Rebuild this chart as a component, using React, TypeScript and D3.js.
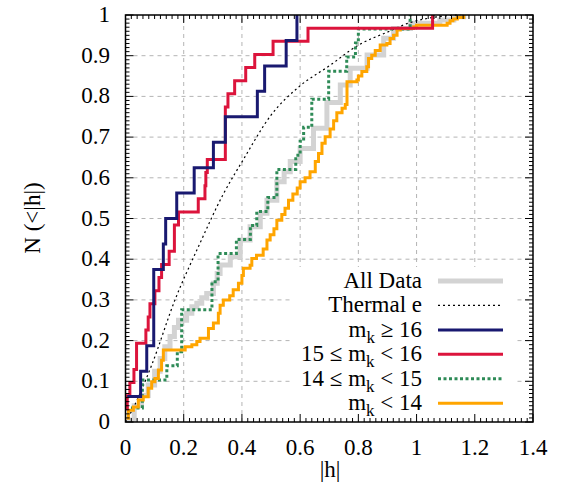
import React from "react";
import * as d3 from "d3";

// ---- data ----
const xTicks = [0, 0.2, 0.4, 0.6, 0.8, 1, 1.2, 1.4];
const yTicks = [0, 0.1, 0.2, 0.3, 0.4, 0.5, 0.6, 0.7, 0.8, 0.9, 1];

// sorted |h| values per sample (empirical CDF)
const blueH = [0.006, 0.052, 0.073, 0.097, 0.097, 0.097, 0.13, 0.138, 0.176, 0.236, 0.302, 0.343, 0.453, 0.478, 0.552, 0.589];
const redH = [0.001, 0.006, 0.015, 0.029, 0.038, 0.038, 0.07, 0.078, 0.084, 0.101, 0.115, 0.124, 0.15, 0.168, 0.168, 0.182, 0.25, 0.273, 0.276, 0.281, 0.343, 0.343, 0.343, 0.343, 0.352, 0.375, 0.413, 0.444, 0.507, 0.627, 1.055];
const greenH = [0.0, 0.058, 0.058, 0.142, 0.178, 0.193, 0.193, 0.193, 0.297, 0.297, 0.318, 0.318, 0.381, 0.429, 0.451, 0.489, 0.52, 0.52, 0.585, 0.6, 0.612, 0.64, 0.64, 0.698, 0.698, 0.76, 0.79, 0.8, 0.978];

// staircase corners (x, level) for the larger samples
const orangeX = [0.004, 0.01, 0.027, 0.044, 0.061, 0.078, 0.09, 0.101, 0.113, 0.124, 0.13, 0.205, 0.228, 0.245, 0.256, 0.285, 0.302, 0.319, 0.325, 0.336, 0.358, 0.37, 0.388, 0.4, 0.405, 0.428, 0.434, 0.45, 0.473, 0.486, 0.497, 0.51, 0.52, 0.537, 0.548, 0.56, 0.575, 0.59, 0.6, 0.617, 0.634, 0.652, 0.663, 0.675, 0.686, 0.703, 0.715, 0.726, 0.744, 0.755, 0.761, 0.795, 0.8, 0.812, 0.829, 0.835, 0.846, 0.858, 0.875, 0.898, 0.909, 0.921, 0.933, 0.944, 0.99, 1.0, 1.105, 1.115, 1.125, 1.14, 1.162];
const orangeY = [0.009, 0.029, 0.037, 0.054, 0.062, 0.083, 0.099, 0.107, 0.128, 0.152, 0.177, 0.185, 0.19, 0.198, 0.206, 0.23, 0.243, 0.267, 0.287, 0.3, 0.31, 0.325, 0.341, 0.36, 0.378, 0.385, 0.402, 0.41, 0.425, 0.447, 0.46, 0.475, 0.496, 0.51, 0.525, 0.545, 0.56, 0.575, 0.59, 0.6, 0.615, 0.64, 0.66, 0.685, 0.701, 0.72, 0.74, 0.76, 0.771, 0.78, 0.836, 0.84, 0.85, 0.861, 0.873, 0.893, 0.901, 0.913, 0.926, 0.93, 0.942, 0.95, 0.963, 0.967, 0.971, 0.975, 0.98, 0.986, 0.99, 0.994, 1.0];

const allX = [0.0, 0.03, 0.055, 0.078, 0.1, 0.119, 0.135, 0.153, 0.168, 0.182, 0.21, 0.228, 0.245, 0.262, 0.279, 0.302, 0.315, 0.325, 0.36, 0.394, 0.428, 0.463, 0.486, 0.52, 0.545, 0.566, 0.6, 0.646, 0.692, 0.738, 0.772, 0.83, 0.887, 0.921, 0.979, 1.08, 1.128, 1.162];
const allY = [0.005, 0.04, 0.065, 0.091, 0.125, 0.156, 0.185, 0.21, 0.232, 0.25, 0.267, 0.283, 0.292, 0.305, 0.316, 0.341, 0.365, 0.386, 0.406, 0.447, 0.48, 0.513, 0.545, 0.59, 0.615, 0.64, 0.672, 0.722, 0.785, 0.828, 0.869, 0.902, 0.943, 0.967, 0.98, 0.988, 0.996, 1.0];

const thermalX = [0, 0.027, 0.09, 0.17, 0.25, 0.336, 0.405, 0.5, 0.6, 0.7, 0.8, 0.9, 0.98, 1.04, 1.1, 1.15];
const thermalY = [0, 0.035, 0.14, 0.3, 0.43, 0.56, 0.645, 0.754, 0.826, 0.875, 0.926, 0.958, 0.982, 0.992, 0.998, 1.0];

const legendLabels = ["All Data", "Thermal e", "m_k ≥ 16", "15 ≤ m_k < 16", "14 ≤ m_k < 15", "m_k < 14"];

// ---- layout ----
const W = 569, H = 497;
const L = 125.5, R = 533, T = 15, B = 422;
const FONT = "Liberation Serif, DejaVu Serif, serif";

const x = d3.scaleLinear().domain([0, 1.4]).range([L, R]);
const y = d3.scaleLinear().domain([0, 1]).range([B, T]);

const stepLine = d3.line<[number, number]>().x(d => x(d[0])).y(d => y(d[1])).curve(d3.curveStepAfter);
const smoothLine = d3.line<[number, number]>().x(d => x(d[0])).y(d => y(d[1])).curve(d3.curveMonotoneX);

const cdf = (h: number[]) => h.map((v, i) => [v, (i + 1) / h.length] as [number, number]);
const zip = (a: number[], b: number[]) => a.map((v, i) => [v, b[i]] as [number, number]);

const styles = [
  { stroke: "#d3d3d3", width: 5, dash: undefined as string | undefined },
  { stroke: "#000000", width: 1.2, dash: "2,3" },
  { stroke: "#191970", width: 3, dash: undefined },
  { stroke: "#dc143c", width: 3, dash: undefined },
  { stroke: "#2e8b57", width: 3, dash: "3,2.5" },
  { stroke: "#ffa500", width: 3, dash: undefined },
];

function Label({ text, xPos, yPos }: { text: string; xPos: number; yPos: number }) {
  const idx = text.indexOf("m_k");
  if (idx < 0) {
    return <text x={xPos} y={yPos} textAnchor="end">{text}</text>;
  }
  const before = text.slice(0, idx);
  const after = text.slice(idx + 3);
  return (
    <text x={xPos} y={yPos} textAnchor="end">
      {before}m<tspan dy={6} style={{ fontSize: 17 }}>k</tspan><tspan dy={-6}>{after}</tspan>
    </text>
  );
}

export default function App() {
  const xMinor = d3.range(0, 1.4001, 0.02);
  const yMinor = d3.range(0, 1.0001, 0.01);
  const series = [
    { d: stepLine(zip(allX, allY)), s: styles[0] },
    { d: smoothLine(zip(thermalX, thermalY)), s: styles[1] },
    { d: stepLine(cdf(greenH)), s: styles[4] },
    { d: stepLine(zip(orangeX, orangeY)), s: styles[5] },
    { d: stepLine(cdf(redH)), s: styles[3] },
    { d: stepLine(cdf(blueH)), s: styles[2] },
  ];
  const legY0 = 281, legDy = 24.45;
  return (
    <svg width={W} height={H} style={{ position: "absolute", left: 0, top: 0, background: "#fff", fontFamily: FONT, fontSize: 23 }}>
      <rect x={0} y={0} width={W} height={H} fill="#fff" />
      <defs>
        <clipPath id="plot"><rect x={L} y={T - 2} width={R - L} height={B - T + 2} /></clipPath>
      </defs>
      {/* grid */}
      <g stroke="#b4b4b4" strokeWidth={1} strokeDasharray="4,4">
        {xTicks.slice(1, -1).map(t => <line key={"gx" + t} x1={x(t)} x2={x(t)} y1={B} y2={T} />)}
        {yTicks.slice(1, -1).map(t => <line key={"gy" + t} x1={L} x2={R} y1={y(t)} y2={y(t)} />)}
      </g>
      {/* key background */}
      <rect x={291} y={267} width={226} height={153} fill="#fff" />
      {/* data */}
      <g clipPath="url(#plot)" fill="none" strokeLinejoin="miter">
        {series.map((sr, i) => (
          <path key={i} d={sr.d || ""} stroke={sr.s.stroke} strokeWidth={sr.s.width} strokeDasharray={sr.s.dash} />
        ))}
      </g>
      {/* ticks */}
      <g stroke="#000" strokeWidth={1}>
        {xMinor.map((t, i) => {
          const len = i % 10 === 0 ? 8 : 4;
          return (
            <g key={"xt" + i}>
              <line x1={x(t)} x2={x(t)} y1={B} y2={B - len} />
              <line x1={x(t)} x2={x(t)} y1={T} y2={T + len} />
            </g>
          );
        })}
        {yMinor.map((t, i) => {
          const len = i % 10 === 0 ? 8 : 4;
          return (
            <g key={"yt" + i}>
              <line x1={L} x2={L + len} y1={y(t)} y2={y(t)} />
              <line x1={R} x2={R - len} y1={y(t)} y2={y(t)} />
            </g>
          );
        })}
      </g>
      <rect x={L} y={T} width={R - L} height={B - T} fill="none" stroke="#000" strokeWidth={1.5} />
      {/* tick labels */}
      <g fill="#000">
        {xTicks.map(t => <text key={"xl" + t} x={x(t)} y={455} textAnchor="middle">{String(t)}</text>)}
        {yTicks.map(t => <text key={"yl" + t} x={110} y={y(t) + 7} textAnchor="end">{String(t)}</text>)}
      </g>
      <text x={330} y={477} textAnchor="middle">|h|</text>
      <text transform={`translate(40,218) rotate(-90)`} textAnchor="middle">N (&lt;|h|)</text>
      {/* legend */}
      <g>
        {legendLabels.map((lab, i) => {
          const cy = legY0 + i * legDy;
          const s = styles[i];
          return (
            <g key={"lg" + i}>
              <Label text={lab} xPos={422} yPos={cy + 7} />
              <line x1={438} x2={503} y1={cy} y2={cy} stroke={s.stroke} strokeWidth={s.width} strokeDasharray={s.dash} />
            </g>
          );
        })}
      </g>
    </svg>
  );
}
